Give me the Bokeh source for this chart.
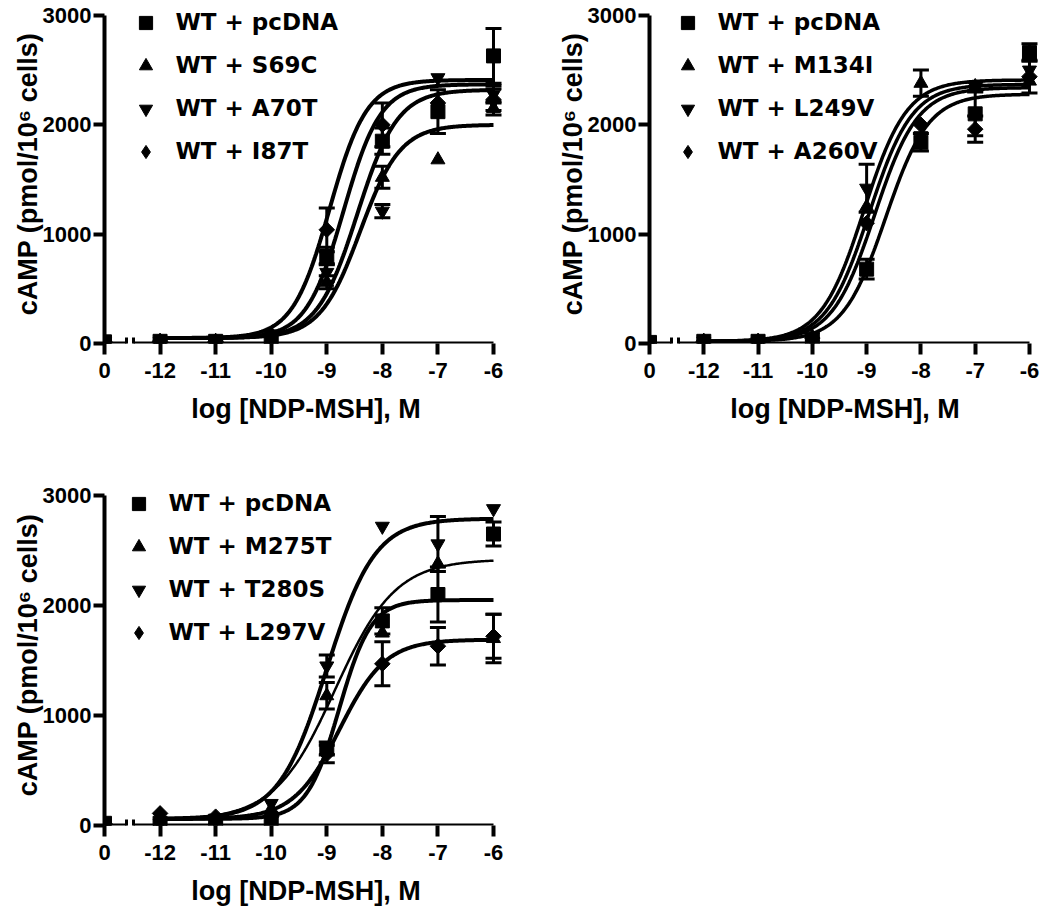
import numpy as np
from bokeh.plotting import figure
from bokeh.models import (Range1d, FixedTicker, Legend, LegendItem, Whisker,
                          ColumnDataSource, TeeHead, LinearAxis,
                          CustomJSTickFormatter)
from bokeh.layouts import column, row
from bokeh.embed import file_html
from bokeh.resources import INLINE

# ---------------- data ----------------
# x position -13 stands for the "0" (no agonist) point drawn left of the axis break
dose = [-13, -12, -11, -10, -9, -8, -7, -6]
x_ticks = [-13, -12, -11, -10, -9, -8, -7, -6]
x_tick_labels = ["0", "-12", "-11", "-10", "-9", "-8", "-7", "-6"]
y_ticks = [0, 1000, 2000, 3000]
axis_break = [-12.6, -12.47]

markers = ["square", "triangle", "inverted_triangle", "diamond"]

# Panel A
a_labels = ["WT + pcDNA", "WT + S69C", "WT + A70T", "WT + I87T"]
a_pcdna = [15, 20, 20, 60, 800, 1850, 2120, 2630]
a_pcdna_err = [0, 0, 0, 0, 80, 120, 200, 250]
a_s69c = [15, 20, 20, 40, 560, 1520, 1680, 2150]
a_s69c_err = [0, 0, 0, 0, 60, 100, 0, 60]
a_a70t = [15, 20, 20, 40, 650, 1210, 2430, 2280]
a_a70t_err = [0, 0, 0, 0, 80, 60, 0, 80]
a_i87t = [15, 20, 20, 80, 1040, 2000, 2200, 2230]
a_i87t_err = [0, 0, 0, 0, 200, 200, 0, 100]
a_bottom = [50, 50, 50, 50]
a_top = [2370, 2000, 2320, 2410]
a_logec50 = [-8.7, -8.4, -8.45, -8.95]
a_hill = [1.3, 1.2, 1.2, 1.3]

# Panel B
b_labels = ["WT + pcDNA", "WT + M134I", "WT + L249V", "WT + A260V"]
b_pcdna = [10, 20, 20, 40, 680, 1840, 2100, 2660]
b_pcdna_err = [0, 0, 0, 0, 90, 80, 200, 80]
b_m134i = [10, 20, 20, 60, 1250, 2380, 2350, 2400]
b_m134i_err = [0, 0, 0, 0, 0, 120, 0, 0]
b_l249v = [10, 20, 20, 60, 1420, 1900, 2350, 2500]
b_l249v_err = [0, 0, 0, 0, 220, 0, 40, 0]
b_a260v = [10, 20, 20, 50, 1100, 2000, 1960, 2440]
b_a260v_err = [0, 0, 0, 0, 0, 0, 120, 150]
b_bottom = [20, 20, 20, 20]
b_top = [2280, 2370, 2410, 2340]
b_logec50 = [-8.65, -8.95, -9.05, -8.85]
b_hill = [1.1, 1.1, 1.1, 1.1]

# Panel C
c_labels = ["WT + pcDNA", "WT + M275T", "WT + T280S", "WT + L297V"]
c_pcdna = [20, 20, 40, 60, 700, 1860, 2100, 2650]
c_pcdna_err = [0, 0, 0, 0, 60, 120, 250, 110]
c_m275t = [20, 30, 50, 150, 1180, 1750, 2380, 1700]
c_m275t_err = [0, 0, 0, 0, 120, 0, 0, 220]
c_t280s = [20, 20, 40, 200, 1450, 2720, 2560, 2880]
c_t280s_err = [0, 0, 0, 0, 100, 0, 250, 0]
c_l297v = [20, 110, 80, 80, 650, 1470, 1630, 1720]
c_l297v_err = [0, 0, 0, 0, 80, 200, 170, 200]
c_bottom = [60, 50, 60, 60]
c_top = [2050, 2420, 2790, 1690]
c_logec50 = [-8.78, -8.85, -9.0, -8.77]
c_hill = [1.5, 0.8, 1.0, 1.05]
c_line_width = [4, 2.5, 4, 4]

AX_FONT = "Liberation Sans"
LEG_FONT = "DejaVu Sans"


def make_panel(labels, means, errs, bottoms, tops, ec50s, hills, widths,
               fig_w, fig_h, b_left, b_right, b_top, b_bottom, x_end,
               leg_vx, leg_vy):
    p = figure(width=fig_w, height=fig_h, output_backend="svg",
               toolbar_location=None, x_range=Range1d(-13, x_end),
               y_range=Range1d(0, 3100), min_border_left=b_left,
               min_border_right=b_right, min_border_top=b_top,
               min_border_bottom=b_bottom)
    p.outline_line_color = None
    p.grid.visible = False
    p.background_fill_color = "white"

    xc = np.linspace(-12, -6, 300)
    rends = []
    for i, lab in enumerate(labels):
        yc = bottoms[i] + (tops[i] - bottoms[i]) / (1 + 10 ** ((ec50s[i] - xc) * hills[i]))
        p.line(xc, yc, line_color="black", line_width=widths[i])
        m = means[i]
        e = errs[i]
        xs = [d for d, ee in zip(dose, e) if ee > 0]
        up = [v + ee for v, ee in zip(m, e) if ee > 0]
        lo = [v - ee for v, ee in zip(m, e) if ee > 0]
        if xs:
            src = ColumnDataSource(dict(x=xs, upper=up, lower=lo))
            w = Whisker(base="x", upper="upper", lower="lower", source=src,
                        dimension="height", line_color="black", line_width=3,
                        upper_head=TeeHead(size=16, line_width=3, line_color="black"),
                        lower_head=TeeHead(size=16, line_width=3, line_color="black"),
                        level="underlay")
            p.add_layout(w)
    for i, lab in enumerate(labels):
        if markers[i] == "diamond":
            p.scatter(dose, means[i], marker="square", angle=np.pi / 4,
                      size=11, color="black")
            # legend swatch (legend markers are never rotated)
            r = p.scatter(dose, means[i], marker="diamond", size=14,
                          color="black", visible=False)
        else:
            r = p.scatter(dose, means[i], marker=markers[i], size=14,
                          color="black")
        rends.append(r)

    xa = p.xaxis[0]
    ya = p.yaxis[0]
    for ax in (xa, ya):
        ax.axis_line_width = 4
        ax.major_tick_line_width = 4
        ax.major_tick_out = 11
        ax.major_tick_in = 0
        ax.minor_tick_line_color = None
        ax.major_label_text_font = AX_FONT
        ax.major_label_text_font_style = "bold"
        ax.major_label_text_font_size = "22px"
        ax.major_label_text_color = "black"
        ax.axis_label_text_font = AX_FONT
        ax.axis_label_text_font_style = "bold"
        ax.axis_label_text_font_size = "27px"
        ax.axis_label_text_color = "black"
    xa.ticker = FixedTicker(ticks=x_ticks)
    xa.major_label_overrides = {t: s for t, s in zip(x_ticks, x_tick_labels)}
    xa.bounds = (-13, -6)
    xa.axis_line_color = None
    xa.axis_label = "log [NDP-MSH], M"
    xa.major_label_standoff = 8
    xa.axis_label_standoff = 13
    ya.ticker = FixedTicker(ticks=y_ticks)
    ya.bounds = (0, 3000)
    ya.axis_label = "cAMP (pmol/10\u2076 cells)"
    ya.major_label_standoff = 2
    ya.axis_label_standoff = -3

    # broken x axis line: two segments plus the break marks
    for bnd in [(-13, axis_break[0]), (axis_break[1], -6)]:
        seg = LinearAxis(fixed_location=0, bounds=bnd, ticker=FixedTicker(ticks=[]),
                         axis_line_width=4, axis_line_color="black",
                         major_tick_line_color=None, minor_tick_line_color=None)
        p.add_layout(seg, "below")
    brk = LinearAxis(fixed_location=0, bounds=(-13, -6),
                     ticker=FixedTicker(ticks=axis_break),
                     formatter=CustomJSTickFormatter(code="return ''"),
                     axis_line_color=None, major_tick_in=6, major_tick_out=10,
                     major_tick_line_width=3, major_tick_line_color="black",
                     minor_tick_line_color=None)
    p.add_layout(brk, "below")

    items = [LegendItem(label=lab, renderers=[r]) for lab, r in zip(labels, rends)]
    leg = Legend(items=items, location=(leg_vx, leg_vy), orientation="vertical",
                 glyph_width=33, glyph_height=33, spacing=10, padding=0, margin=0,
                 label_standoff=14, label_text_font=LEG_FONT,
                 label_text_font_style="bold", label_text_font_size="23px",
                 label_text_color="black",
                 label_height=20, border_line_color=None,
                 background_fill_alpha=0)
    p.add_layout(leg)
    return p


pA = make_panel(a_labels, [a_pcdna, a_s69c, a_a70t, a_i87t],
                [a_pcdna_err, a_s69c_err, a_a70t_err, a_i87t_err],
                a_bottom, a_top, a_logec50, a_hill, [4, 4, 4, 4],
                520, 460, 104, 13, 4, 117, -5.748, 24.5, 175.5)
pB = make_panel(b_labels, [b_pcdna, b_m134i, b_l249v, b_a260v],
                [b_pcdna_err, b_m134i_err, b_l249v_err, b_a260v_err],
                b_bottom, b_top, b_logec50, b_hill, [3.5, 3.5, 3.5, 3.5],
                524, 460, 129, 4, 4, 117, -5.797, 21.5, 175.5)
pC = make_panel(c_labels, [c_pcdna, c_m275t, c_t280s, c_l297v],
                [c_pcdna_err, c_m275t_err, c_t280s_err, c_l297v_err],
                c_bottom, c_top, c_logec50, c_hill, c_line_width,
                520, 453, 104, 13, 24, 88, -5.748, 17.5, 176.5)

layout = column(row(pA, pB), pC)
open("out.html", "w").write(file_html(layout, INLINE))
